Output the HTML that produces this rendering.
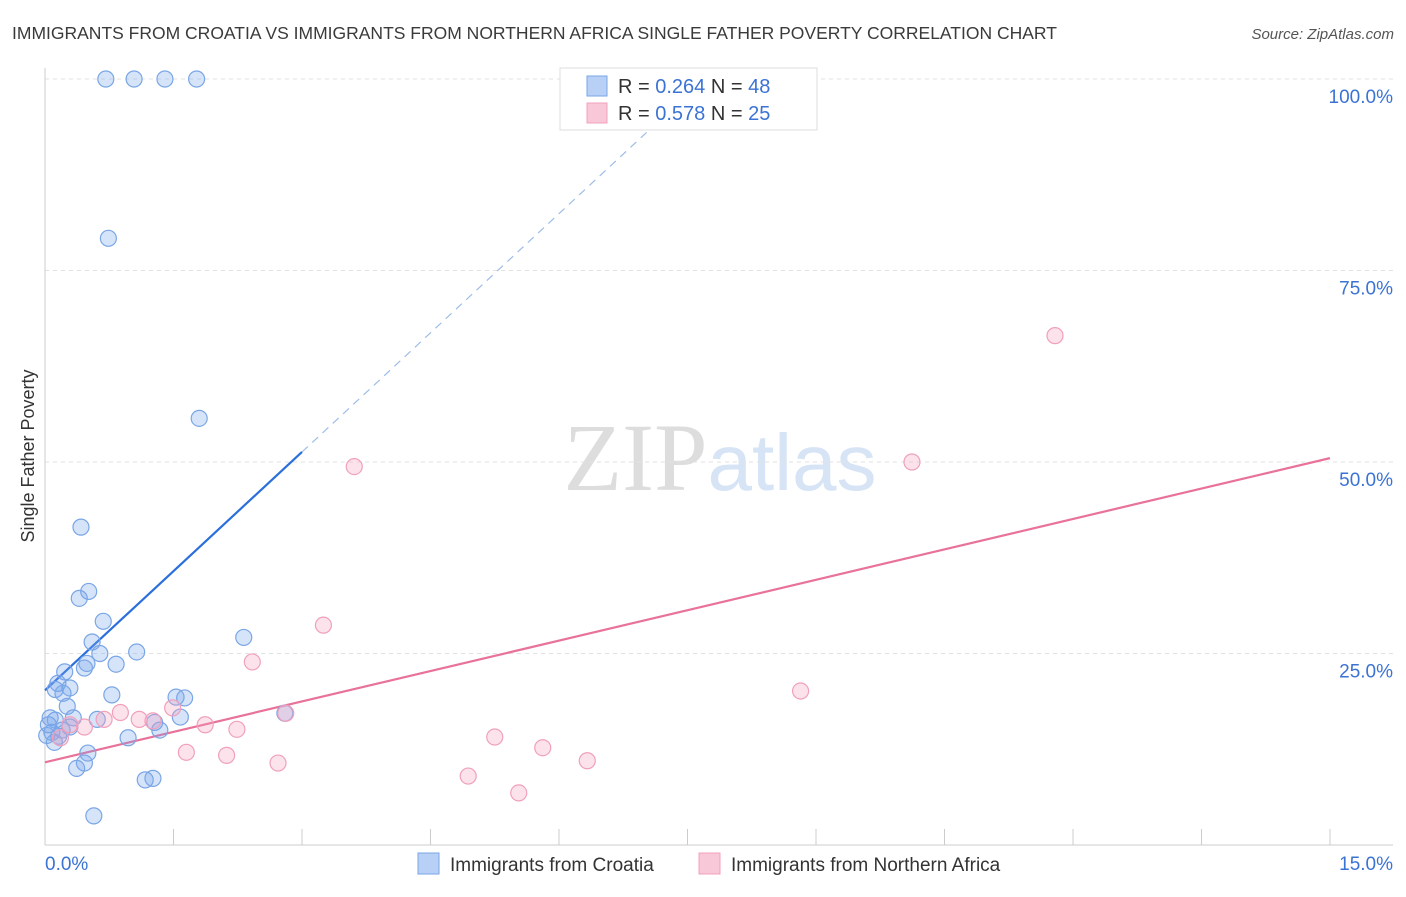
<!DOCTYPE html>
<html><head><meta charset="utf-8"><style>
body{margin:0;background:#fff;font-family:"Liberation Sans",sans-serif;}
svg text{font-family:"Liberation Sans",sans-serif;}
</style></head><body>
<svg id="chart" width="1406" height="892" xmlns="http://www.w3.org/2000/svg">
<text x="12" y="39" font-size="17.5" fill="#3a3a3a">IMMIGRANTS FROM CROATIA VS IMMIGRANTS FROM NORTHERN AFRICA SINGLE FATHER POVERTY CORRELATION CHART</text>
<text x="1394" y="39" font-size="15" fill="#555" text-anchor="end" font-style="italic">Source: ZipAtlas.com</text>
<text x="720" y="490" font-size="96" text-anchor="middle"><tspan fill="#ddd" font-family="Liberation Serif">ZIP</tspan><tspan fill="#d6e4f5" font-size="80">atlas</tspan></text>
<text transform="translate(34,456) rotate(-90)" font-size="18" fill="#333" text-anchor="middle">Single Father Poverty</text>
<g id="grid"></g><g id="axes"></g><g id="lines"></g><g id="pts"></g>
<g>
<rect x="560" y="68" width="257" height="62" fill="#fff" stroke="#ddd"/>
<rect x="587" y="76" width="20" height="20" fill="#b8d0f5" stroke="#7aa6e6"/>
<rect x="587" y="103" width="20" height="20" fill="#f9c8d8" stroke="#f0a0bc"/>
<text x="618" y="93" font-size="20" fill="#333">R = <tspan fill="#3b73d4">0.264</tspan>   N = <tspan fill="#3b73d4">48</tspan></text>
<text x="618" y="120" font-size="20" fill="#333">R = <tspan fill="#3b73d4">0.578</tspan>   N = <tspan fill="#3b73d4">25</tspan></text>
</g>
<g>
<rect x="418" y="853" width="21" height="21" fill="#b8d0f5" stroke="#7aa6e6"/>
<text x="450" y="871" font-size="19" fill="#333">Immigrants from Croatia</text>
<rect x="699" y="853" width="21" height="21" fill="#f9c8d8" stroke="#f0a0bc"/>
<text x="731" y="871" font-size="19" fill="#333">Immigrants from Northern Africa</text>
</g>
</svg>
<script>
const yTicks=[25,50,75,100];
const yTickLabels=["25.0%","50.0%","75.0%","100.0%"];
const xTicks=[0,1.5,3,4.5,6,7.5,9,10.5,12,13.5,15];
const croatiaX=[0.71,1.04,1.40,1.77,0.74,1.80,0.42,0.51,0.40,0.68,0.55,1.07,0.64,0.83,0.49,0.46,0.23,0.15,0.29,0.12,0.21,0.78,1.53,1.63,0.26,1.58,0.06,0.33,0.61,0.12,2.80,2.32,1.28,1.34,0.08,0.16,0.02,0.97,0.11,0.50,0.46,0.37,1.26,1.17,0.57,0.29,0.20,0.04];
const croatiaY=[100,100,100,100,79.2,55.7,41.5,33.1,32.2,29.2,26.5,25.2,25.0,23.6,23.7,23.1,22.6,21.1,20.5,20.3,19.8,19.6,19.3,19.2,18.1,16.7,16.6,16.6,16.4,16.3,17.2,27.1,16.0,15.0,14.7,14.2,14.3,14.0,13.4,12.0,10.7,10.0,8.7,8.5,3.8,15.4,15.0,15.7];
const africaX=[11.79,3.61,10.12,3.25,2.42,8.82,2.81,1.49,0.88,0.69,1.10,1.26,1.87,2.24,0.46,0.29,5.25,5.81,1.65,2.12,2.72,6.33,4.94,5.53,0.18];
const africaY=[66.5,49.4,50.0,28.7,23.9,20.1,17.2,17.9,17.3,16.4,16.4,16.2,15.7,15.1,15.4,15.7,14.1,12.7,12.1,11.7,10.7,11.0,9.0,6.8,14.0];
const croatiaFit=[20.2,10.37]; // intercept, slope
const africaFit=[10.8,2.647];
const X0=45,X1=1330,Y0=845,Y100=79;
const sx=v=>X0+(X1-X0)*v/15;
const sy=v=>Y0-(Y0-Y100)*v/100;
const NS="http://www.w3.org/2000/svg";
function mk(p,t,a){const e=document.createElementNS(NS,t);for(const k in a)e.setAttribute(k,a[k]);p.appendChild(e);return e;}
const grid=document.getElementById('grid'),axes=document.getElementById('axes'),lines=document.getElementById('lines'),pts=document.getElementById('pts');
yTicks.forEach((t,i)=>{
 const g=mk(grid,'line',{x1:X0,x2:1393,y1:sy(t),y2:sy(t),stroke:'#e2e2e2','stroke-dasharray':'4,4'});
 
 
 const l=mk(axes,'text',{x:1393,y:sy(t)+24,'font-size':19,fill:'#3b73d4','text-anchor':'end'});
 l.textContent=yTickLabels[i];
 
 
});
const ax=mk(axes,'line',{x1:X0,x2:1393,y1:Y0,y2:Y0,stroke:'#ccc'});


const ay=mk(axes,'line',{x1:X0,x2:X0,y1:68,y2:Y0,stroke:'#ccc'});


xTicks.forEach(t=>{const e=mk(axes,'line',{x1:sx(t),x2:sx(t),y1:829,y2:Y0,stroke:'#ccc'});
 
 });
const xl0=mk(axes,'text',{x:45,y:870,'font-size':19,fill:'#3b73d4'});xl0.textContent='0.0%';


const xl1=mk(axes,'text',{x:1393,y:870,'font-size':19,fill:'#3b73d4','text-anchor':'end'});xl1.textContent='15.0%';


// trend lines
const cEnd=3.0, cDashEnd=(100-croatiaFit[0])/croatiaFit[1];
const b1=mk(lines,'line',{x1:sx(0),y1:sy(croatiaFit[0]),x2:sx(cEnd),y2:sy(croatiaFit[0]+croatiaFit[1]*cEnd),stroke:'#2a6fdb','stroke-width':2.2});


const b2=mk(lines,'line',{x1:sx(cEnd),y1:sy(croatiaFit[0]+croatiaFit[1]*cEnd),x2:sx(cDashEnd),y2:sy(100),stroke:'#9dbde8','stroke-width':1.2,'stroke-dasharray':'8,6'});


const p1=mk(lines,'line',{x1:sx(0),y1:sy(africaFit[0]),x2:sx(15),y2:sy(africaFit[0]+africaFit[1]*15),stroke:'#e8729a','stroke-width':2.2});


croatiaX.forEach((x,i)=>{const c=mk(pts,'circle',{cx:sx(x),cy:sy(croatiaY[i]),r:8,fill:'rgba(120,165,235,0.3)',stroke:'#7aa6e6','stroke-width':1.2});
 
 });
africaX.forEach((x,i)=>{const c=mk(pts,'circle',{cx:sx(x),cy:sy(africaY[i]),r:8,fill:'rgba(245,160,190,0.3)',stroke:'#f0a0bc','stroke-width':1.2});
 
 });
</script>
</body></html>
